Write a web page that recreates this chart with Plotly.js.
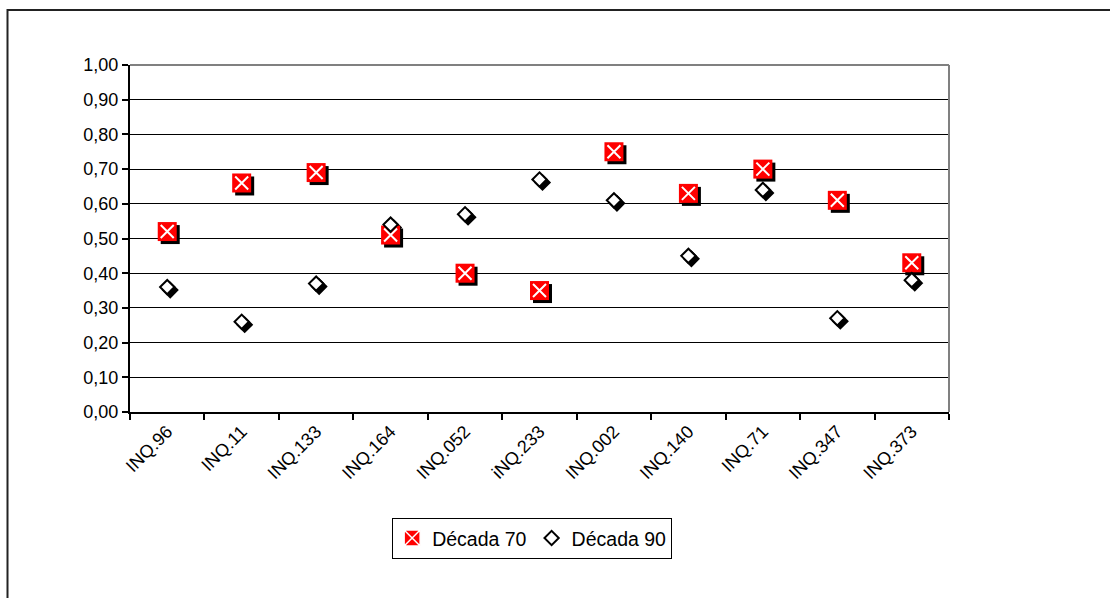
<!DOCTYPE html>
<html>
<head>
<meta charset="utf-8">
<script src="https://cdn.plot.ly/plotly-3.0.1.min.js"></script>
<style>
  html, body { margin: 0; padding: 0; background: #ffffff; }
  #chart { width: 1110px; height: 598px; }
</style>
</head>
<body>
<div id="chart"></div>
<script>
// Sampling points along the category axis
const categories = ['INQ.96', 'INQ.11', 'INQ.133', 'INQ.164', 'INQ.052', 'iNQ.233',
                    'INQ.002', 'INQ.140', 'INQ.71', 'INQ.347', 'INQ.373'];

// Index values per decade
const decada70 = [0.52, 0.66, 0.69, 0.51, 0.40, 0.35, 0.75, 0.63, 0.70, 0.61, 0.43];
const decada90 = [0.36, 0.26, 0.37, 0.54, 0.57, 0.67, 0.61, 0.45, 0.64, 0.27, 0.38];

const seriesNames = ['Década 70', 'Década 90'];

// Plot-area geometry (pixels) used to express the drop-shadow offset in axis units
const W = 1110, H = 598;
const M = { l: 130, r: 161, t: 65, b: 186 };
const plotW = W - M.l - M.r;
const plotH = H - M.t - M.b;
const shadowPx = 3;
const dx = shadowPx / plotW * categories.length;
const dy = shadowPx / plotH * 1.0;

const fontFamily = '"Liberation Sans", Arial, sans-serif';
const noData = categories.map(() => null);

const traces = [
  // carrier trace that gives the visible category axis its categories
  {
    x: categories, y: decada70, xaxis: 'x', yaxis: 'y',
    type: 'scatter', mode: 'markers', marker: { opacity: 0 },
    showlegend: false, hoverinfo: 'skip'
  },
  // drop shadows (shifted axes)
  {
    x: categories, y: decada70, xaxis: 'x2', yaxis: 'y2',
    type: 'scatter', mode: 'markers', showlegend: false, hoverinfo: 'skip',
    cliponaxis: false,
    marker: { symbol: 'square', size: 19, color: '#000000', line: { width: 0 } }
  },
  {
    x: categories, y: decada90, xaxis: 'x2', yaxis: 'y2',
    type: 'scatter', mode: 'markers', showlegend: false, hoverinfo: 'skip',
    cliponaxis: false,
    marker: { symbol: 'diamond', size: 11, color: '#000000', line: { width: 2, color: '#000000' } }
  },
  // Década 70: red square with a white cross
  {
    x: categories, y: decada70, xaxis: 'x3', yaxis: 'y3', legendgroup: 'd70',
    type: 'scatter', mode: 'markers', cliponaxis: false, showlegend: false,
    marker: { symbol: 'square', size: 19, color: '#ff0000', line: { width: 0 } }
  },
  {
    x: categories, y: decada70, xaxis: 'x3', yaxis: 'y3', legendgroup: 'd70',
    type: 'scatter', mode: 'markers', cliponaxis: false, showlegend: false,
    marker: { symbol: 'x-thin-open', size: 13, color: '#ffffff', line: { width: 2, color: '#ffffff' } }
  },
  // Década 90: white diamond with black outline
  {
    x: categories, y: decada90, xaxis: 'x3', yaxis: 'y3', legendgroup: 'd90',
    type: 'scatter', mode: 'markers', cliponaxis: false, showlegend: false,
    marker: { symbol: 'diamond', size: 11, color: '#ffffff', line: { width: 2, color: '#000000' } }
  },
  // legend entries
  {
    x: categories, y: noData, xaxis: 'x3', yaxis: 'y3', name: seriesNames[0], legendgroup: 'd70',
    type: 'scatter', mode: 'markers', hoverinfo: 'skip',
    marker: { symbol: 'square-x', size: 16, color: '#ff0000', line: { width: 1.5, color: '#ffffff' } }
  },
  {
    x: categories, y: noData, xaxis: 'x3', yaxis: 'y3', name: seriesNames[1], legendgroup: 'd90',
    type: 'scatter', mode: 'markers', hoverinfo: 'skip',
    marker: { symbol: 'diamond', size: 11, color: '#ffffff', line: { width: 2, color: '#000000' } }
  }
];

const hidden = { visible: false, fixedrange: true };

const layout = {
  width: W, height: H,
  margin: M,
  paper_bgcolor: '#ffffff',
  plot_bgcolor: '#ffffff',
  separators: ', ',
  font: { family: fontFamily, size: 18, color: '#000000' },
  showlegend: true,
  xaxis: {
    type: 'category',
    categoryorder: 'array', categoryarray: categories,
    range: [-0.5, categories.length - 0.5],
    tickson: 'boundaries',
    ticks: 'outside', ticklen: 6, tickwidth: 2, tickcolor: '#000000',
    tickangle: -45,
    tickfont: { family: fontFamily, size: 18, color: '#000000' },
    showline: true, linecolor: '#000000', linewidth: 2,
    showgrid: false, zeroline: false, fixedrange: true
  },
  yaxis: {
    range: [0, 1], dtick: 0.1, tick0: 0,
    tickformat: '.2f',
    ticks: 'outside', ticklen: 6, tickwidth: 2, tickcolor: '#000000',
    tickfont: { family: fontFamily, size: 18, color: '#000000' },
    showline: true, linecolor: '#000000', linewidth: 2,
    showgrid: true, gridcolor: '#000000', gridwidth: 1,
    zeroline: false, fixedrange: true
  },
  xaxis2: Object.assign({ overlaying: 'x', type: 'category', categoryorder: 'array',
    categoryarray: categories, range: [-0.5 - dx, categories.length - 0.5 - dx] }, hidden),
  yaxis2: Object.assign({ overlaying: 'y', range: [dy, 1 + dy] }, hidden),
  xaxis3: Object.assign({ overlaying: 'x', type: 'category', categoryorder: 'array',
    categoryarray: categories, range: [-0.5, categories.length - 0.5] }, hidden),
  yaxis3: Object.assign({ overlaying: 'y', range: [0, 1] }, hidden),
  legend: {
    orientation: 'h',
    x: 0.491, xanchor: 'center',
    y: -0.305, yanchor: 'top',
    bgcolor: '#ffffff', bordercolor: '#000000', borderwidth: 1,
    font: { family: fontFamily, size: 19.5, color: '#000000' },
    itemwidth: 30,
    tracegroupgap: 0
  },
  shapes: [
    // plot-area frame: top and right edges in grey
    { type: 'line', xref: 'paper', yref: 'paper', x0: 0, x1: 1, y0: 1, y1: 1,
      line: { color: '#808080', width: 2 }, layer: 'above' },
    { type: 'line', xref: 'paper', yref: 'paper', x0: 1, x1: 1, y0: 0, y1: 1,
      line: { color: '#808080', width: 2 }, layer: 'above' },
    // chart-area border
    { type: 'rect', xref: 'paper', yref: 'paper',
      x0: (7.5 - M.l) / plotW, x1: (W + 20 - M.l) / plotW,
      y0: -(H + 20 - (M.t + plotH)) / plotH, y1: ((M.t + plotH) - 10) / plotH,
      line: { color: '#222222', width: 2 }, fillcolor: 'rgba(0,0,0,0)', layer: 'above' }
  ]
};

Plotly.newPlot('chart', traces, layout, { displayModeBar: false, staticPlot: true });
</script>
</body>
</html>
